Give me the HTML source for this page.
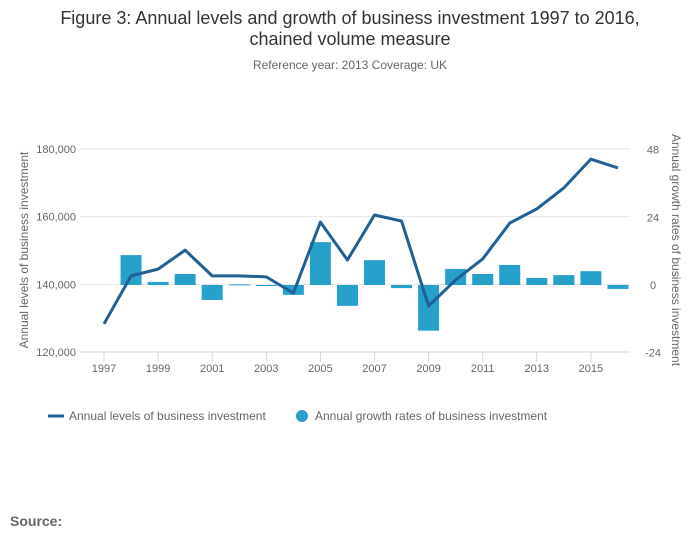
<!DOCTYPE html>
<html><head><meta charset="utf-8"><style>
body{margin:0;background:#fff;font-family:"Liberation Sans",sans-serif;}
svg text{font-family:"Liberation Sans",sans-serif;}
</style></head><body>
<svg id="c" width="700" height="549" viewBox="0 0 700 549">
<text x="350" y="24" text-anchor="middle" font-size="18" fill="#333">Figure 3: Annual levels and growth of business investment 1997 to 2016,</text>
<text x="350" y="45" text-anchor="middle" font-size="18" fill="#333">chained volume measure</text>
<text x="350" y="69" text-anchor="middle" font-size="12" fill="#666">Reference year: 2013 Coverage: UK</text>
<g id="grid"></g><g id="bars"></g><g id="line"></g><g id="axes"></g>
<text transform="translate(28,250) rotate(-90)" text-anchor="middle" font-size="12" fill="#666">Annual levels of business investment</text>
<text transform="translate(672,250) rotate(90)" text-anchor="middle" font-size="12" fill="#666">Annual growth rates of business investment</text>
<g><line x1="48" y1="416" x2="64" y2="416" stroke="#206095" stroke-width="3"/><text x="69" y="420" font-size="12" fill="#666">Annual levels of business investment</text></g>
<g><circle cx="302" cy="416" r="6" fill="#27a0cc"/><text x="315" y="420" font-size="12" fill="#666">Annual growth rates of business investment</text></g>
<text x="10" y="526" font-size="14" font-weight="bold" fill="#666">Source:</text>
</svg>
<script>
const years=[1997,1998,1999,2000,2001,2002,2003,2004,2005,2006,2007,2008,2009,2010,2011,2012,2013,2014,2015,2016];
const levels=[128300,142500,144500,150100,142500,142500,142200,137400,158400,147200,160500,158700,133600,141300,147500,158100,162300,168500,177000,174400];
const growth=[null,10.6,1.1,3.9,-5.3,0.2,-0.3,-3.5,15.2,-7.4,8.8,-1.1,-16.2,5.7,3.9,7.1,2.5,3.5,4.9,-1.4];
const leftTicks=[120000,140000,160000,180000];
const rightTicks=[-24,0,24,48];
const NS="http://www.w3.org/2000/svg";
const x=y=>104+(y-1997)*27.05;
const yL=v=>352-(v-120000)/60000*203;
const yR=v=>285-v/24*67.7;
function mk(t,a,p){const e=document.createElementNS(NS,t);for(const k in a)e.setAttribute(k,a[k]);document.getElementById(p).appendChild(e);return e;}
leftTicks.forEach(v=>{
 const g=mk('line',{x1:80,x2:630,y1:yL(v),y2:yL(v),stroke:v==120000?'#ccd6eb':'#e6e6e6'},'grid');
 
 
 const t=mk('text',{x:76,y:yL(v)+4,'text-anchor':'end','font-size':11,fill:'#666'},'axes');t.textContent=v.toLocaleString('en-US');
 
 
});
rightTicks.forEach(v=>{
 const t=mk('text',{x:653,y:yR(v)+4,'text-anchor':'middle','font-size':11,fill:'#666'},'axes');t.textContent=v;
 
 
});
years.forEach((yr,i)=>{
 if(yr%2==1){
  const tk=mk('line',{x1:x(yr),x2:x(yr),y1:352,y2:362,stroke:'#ccd6eb'},'axes');
  
  
  const t=mk('text',{x:x(yr),y:372,'text-anchor':'middle','font-size':11,fill:'#666'},'axes');t.textContent=yr;
  
  
 }
 const g=growth[i];
 if(g!==null){
  const y0=yR(0),y1=yR(g);
  const r=mk('rect',{x:x(yr)-10.5,width:21,y:Math.min(y0,y1),height:Math.max(1,Math.abs(y1-y0)),fill:'#27a0cc'},'bars');
  
  
 }
});
const p=mk('polyline',{points:years.map((yr,i)=>x(yr)+','+yL(levels[i])).join(' '),fill:'none',stroke:'#206095','stroke-width':3,'stroke-linejoin':'round'},'line');


</script>
</body></html>
